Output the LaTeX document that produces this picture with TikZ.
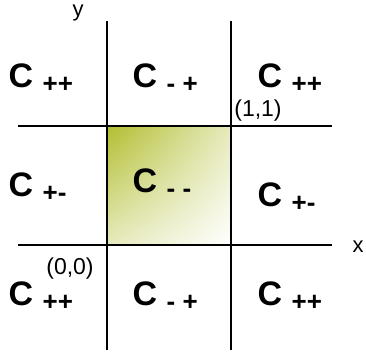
\documentclass[tikz,border=0pt]{standalone}
\usepackage{fontspec}
\setmainfont{Liberation Sans}
\usetikzlibrary{positioning, shadings}
\definecolor{cgreen}{HTML}{B2BE30}
\newcommand{\cellsub}[1]{\raisebox{-5pt}{\fontsize{26}{26}\selectfont\bfseries #1}}
\tikzset{
  every picture/.style={line width=1.3pt},
  cell/.style={anchor=base west, inner sep=0pt, font=\fontsize{34}{34}\selectfont\bfseries},
  corner/.style={inner sep=0pt, font=\fontsize{23}{23}\selectfont},
  axislabel/.style={anchor=base west, inner sep=0pt, font=\fontsize{22}{22}\selectfont},
}

\begin{document}
\begin{tikzpicture}[x=1pt, y=-1pt]
  \useasboundingbox (0,0) rectangle (366,358);
  % shaded unit cell
  \shade[upper left=cgreen, lower right=white, upper right=cgreen!32!white, lower left=cgreen!32!white] (107,126) rectangle (231,245);
  % grid lines
  \foreach \y in {126,245} \draw (18,\y) -- (332,\y);
  \foreach \x in {107,231} \draw (\x,21) -- (\x,350);
  \draw[line width=2pt] (252,245) -- (332,245);
  \foreach \x in {107,231} \draw[line width=2pt] (\x,268) -- (\x,350);
  % cell labels
  \foreach \cx/\cy/\s [count=\k] in {8/88/{++}, 132/88/{- +}, 257/88/{++},
    8/196/{+-}, 132/192/{- -}, 257/206/{+-},
    8/305/{++}, 132/305/{- +}, 257/305/{++}}
    \node[cell] (c\k) at (\cx,\cy) {C \cellsub{\s}};
  % corners and axes
  \node[corner] (p11) at (258,111) {(1,1)};
  \node[corner] (p00) at (70,269) {(0,0)};
  \node[axislabel] (ylab) at (72,17) {y};
  \node[axislabel] (xlab) at (352,252) {x};
\end{tikzpicture}
\end{document}
